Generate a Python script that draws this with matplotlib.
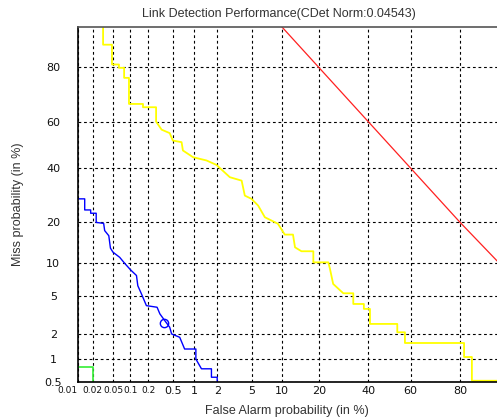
import numpy as np
import matplotlib
matplotlib.use("Agg")
import matplotlib.pyplot as plt
from statistics import NormalDist

# DET plot: probabilities in %, drawn on normal deviate axes

x_ticks = [0.01, 0.02, 0.05, 0.1, 0.2, 0.5, 1, 2, 5, 10, 20, 40, 60, 80]
x_tick_labels = ["0.01", "0.02", "0.05", "0.1", "0.2", "0.5", "1", "2", "5", "10", "20", "40", "60", "80"]
y_ticks = [0.5, 1, 2, 5, 10, 20, 40, 60, 80]
y_tick_labels = ["0.5", "1", "2", "5", "10", "20", "40", "60", "80"]

# random performance line
red_fa = [9.5, 10, 15, 20, 30, 40, 50, 60, 70, 80, 90]
red_miss = [90.5, 90, 85, 80, 70, 60, 50, 40, 30, 20, 10.4]

yellow_fa = [0.032, 0.032, 0.047, 0.047, 0.063, 0.063, 0.078, 0.078, 0.095, 0.095,
             0.165, 0.165, 0.27, 0.27, 0.33, 0.44, 0.49, 0.66, 0.69, 0.96,
             1.46, 1.96, 2.85, 3.9, 4.23, 5.0, 5.87, 6.87, 9.17, 10.6,
             12.5, 13.0, 14.7, 18.2, 18.2, 23.3, 23.9, 25.1, 29.1, 33.3,
             33.3, 38.0, 38.0, 40.8, 40.8, 53.7, 53.7, 57.3, 57.3, 81.3,
             81.3, 83.7, 83.7, 95]
yellow_miss = [95, 86.2, 86.2, 80.9, 80.9, 79.9, 79.9, 76.7, 76.7, 67.2,
               67.2, 65.9, 65.9, 60.0, 56.6, 55.1, 51.9, 51.2, 47.6, 44.7,
               43.3, 41.4, 36.3, 34.9, 29.1, 27.9, 25.5, 21.6, 19.6, 16.5,
               16.5, 13.3, 12.4, 12.4, 10.1, 10.1, 8.9, 6.55, 5.35, 5.35,
               4.2, 4.2, 3.74, 3.74, 2.59, 2.59, 2.09, 2.09, 1.57, 1.57,
               1.06, 1.06, 0.52, 0.52]

blue_fa = [0.005, 0.014, 0.014, 0.0184, 0.0184, 0.0236, 0.0236, 0.0328, 0.0343, 0.041,
           0.044, 0.049, 0.065, 0.080, 0.102, 0.128, 0.135, 0.155, 0.188, 0.28,
           0.31, 0.37, 0.44, 0.47, 0.62, 0.73, 1.05, 1.05, 1.25, 1.69,
           1.69, 2.0, 2.0]
blue_miss = [27.9, 27.9, 24.0, 24.0, 22.9, 22.9, 20.0, 19.7, 17.6, 16.2,
             13.1, 12.2, 11.1, 9.9, 8.7, 7.8, 6.3, 5.3, 4.04, 3.89,
             3.32, 2.81, 2.38, 2.0, 1.83, 1.33, 1.33, 1.0, 0.75, 0.75,
             0.58, 0.58, 0.3]

# minimum cost point on the blue curve
min_fa = [0.356]
min_miss = [2.63]

green_fa = [0.005, 0.02, 0.02]
green_miss = [0.78, 0.78, 0.3]


def dev(p):
    # percent -> normal deviate
    nd = NormalDist()
    return np.array([nd.inv_cdf(v / 100.0) for v in p])


fig = plt.figure(figsize=(4.97, 4.19), dpi=100)
ax = fig.add_axes([77.5 / 497, 37 / 419, 1 - 77.5 / 497, 355 / 419])

ax.plot(dev(red_fa), dev(red_miss), color="#ff2020", lw=0.9)
ax.plot(dev(yellow_fa), dev(yellow_miss), color="#ffff00", lw=1.3)
ax.plot(dev(blue_fa), dev(blue_miss), color="#0000ff", lw=1.0)
ax.plot(dev(green_fa), dev(green_miss), color="#33ee33", lw=1.2)
ax.plot(dev(min_fa), dev(min_miss), marker="o", ms=6, mfc="none", mec="#0000ff", mew=1.0, ls="none")

ax.set_xlim(dev([0.01])[0], dev([90])[0])
ax.set_ylim(dev([0.5])[0], dev([90])[0])

ax.set_xticks(dev(x_ticks))
ax.set_xticklabels(x_tick_labels)
ax.set_yticks(dev(y_ticks))
ax.set_yticklabels(y_tick_labels)
ax.tick_params(axis="both", length=0, labelsize=8, colors="#111111")
ax.tick_params(axis="x", pad=3)
ax.tick_params(axis="y", pad=17.5)
for lab in ax.get_yticklabels():
    lab.set_horizontalalignment("center")
# the small values sit close together, use a tighter font there
for lab in ax.get_xticklabels()[:5]:
    lab.set_fontsize(6.5)
    lab.set_family("Liberation Sans Narrow")
ax.get_xticklabels()[0].set_horizontalalignment("right")

ax.grid(True, color="black", linestyle=(0, (2.5, 2.5)), linewidth=0.8)

ax.spines["right"].set_visible(False)
ax.spines["top"].set_color("#555555")
ax.spines["top"].set_linewidth(1.2)
ax.spines["left"].set_linewidth(1.2)
ax.spines["bottom"].set_linewidth(1.2)

ax.set_title("Link Detection Performance(CDet Norm:0.04543)", fontsize=9,
             family="Liberation Sans", color="#333333", pad=7, x=0.48)
ax.set_xlabel("False Alarm probability (in %)", fontsize=9, family="Liberation Sans",
              color="#333333", labelpad=6)
ax.set_ylabel("Miss probability (in %)", fontsize=9, family="Liberation Sans",
              color="#333333", labelpad=15)

fig.savefig("out.png", dpi=100)
